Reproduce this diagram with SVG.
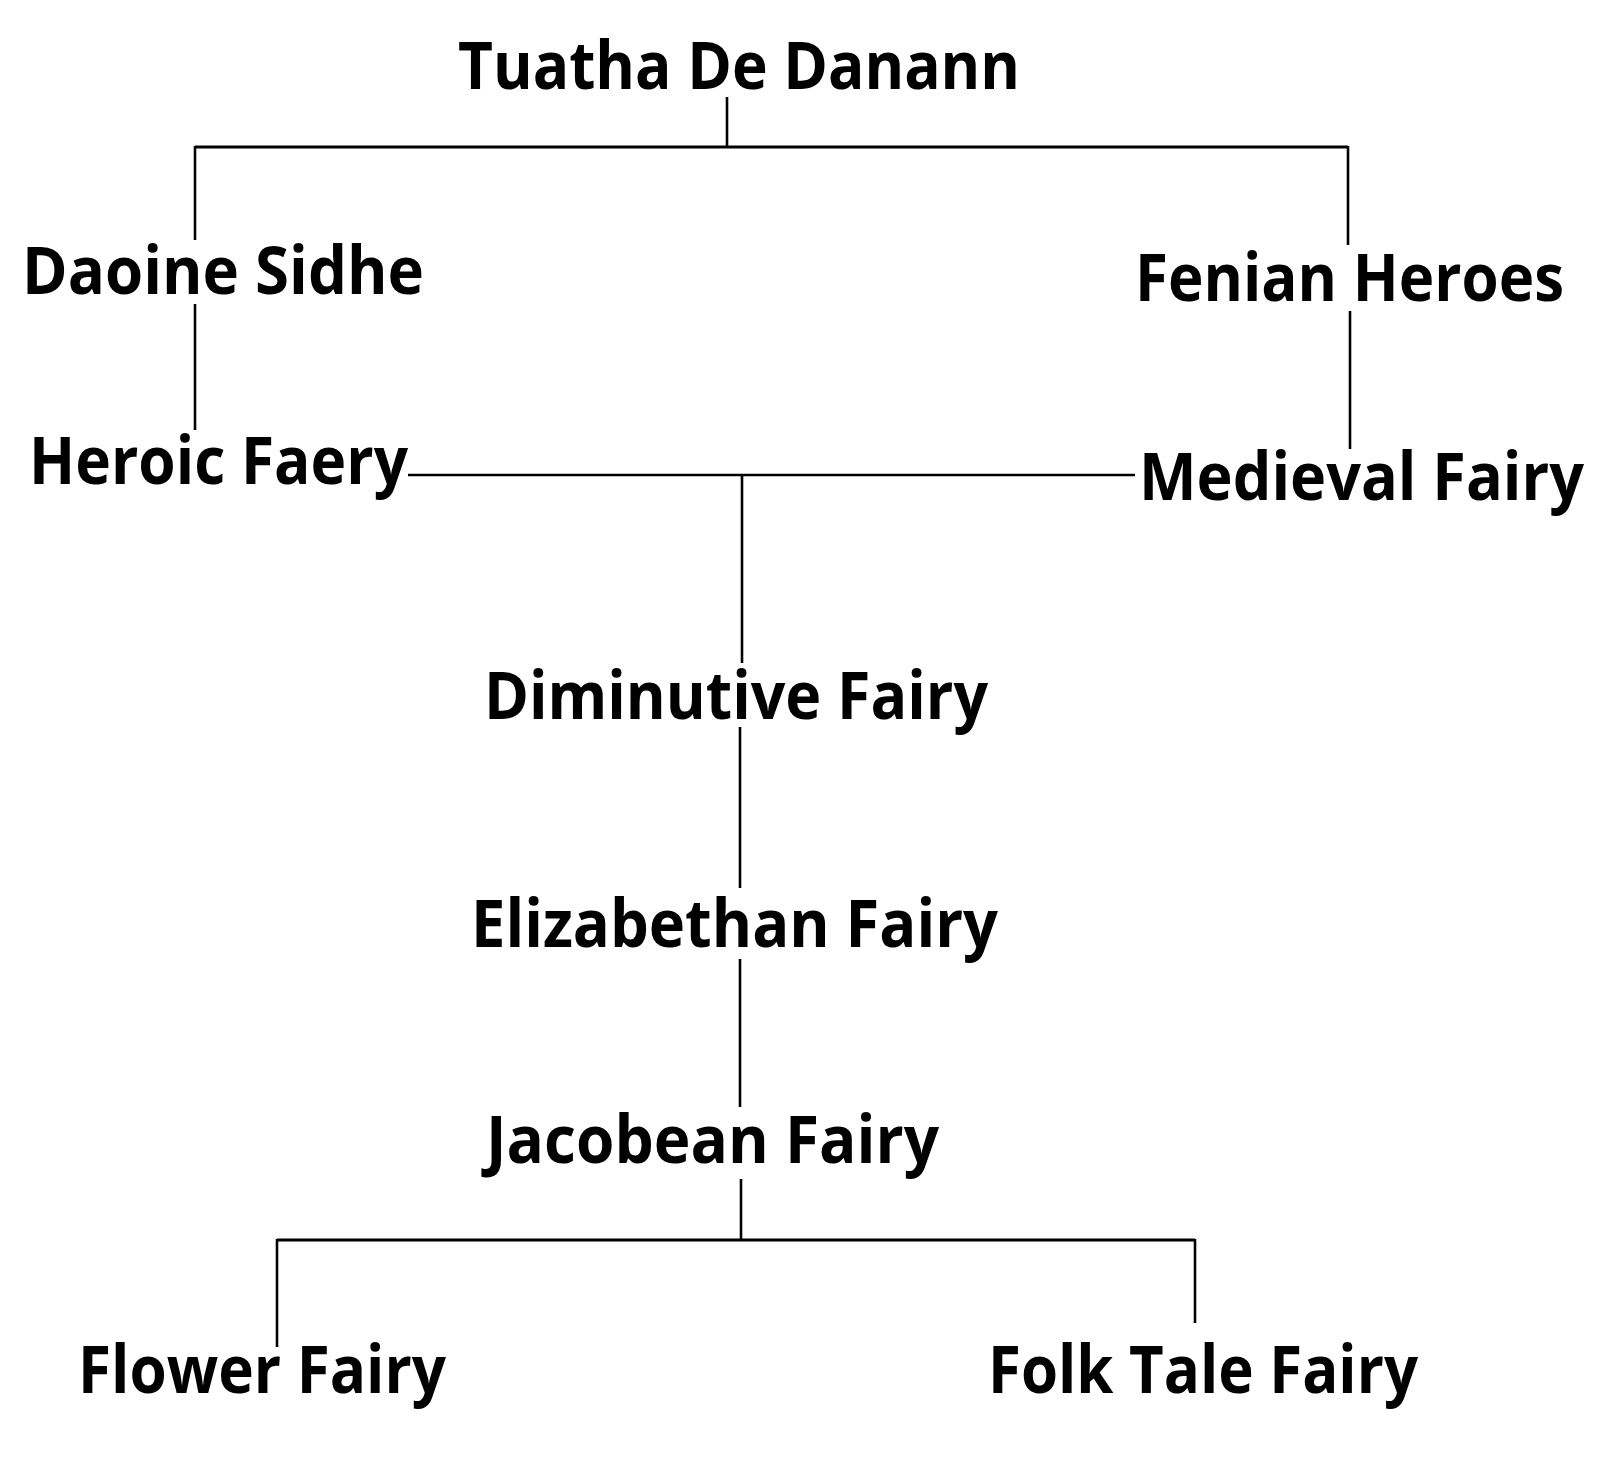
<svg xmlns="http://www.w3.org/2000/svg" width="1600" height="1480" viewBox="0 0 1600 1480">
<style>
.t{font-family:"Open Sans","Liberation Sans",sans-serif;font-weight:bold;font-size:67px;fill:#000}
.c line{stroke:#000;stroke-width:2.6;stroke-linecap:butt}
</style>
<rect width="1600" height="1480" fill="#fff"/>
<g class="c" id="connectors">
<line x1="727" y1="97" x2="727" y2="147"/>
<line x1="195" y1="147" x2="1348" y2="147" style="stroke-width:3"/>
<line x1="195" y1="146" x2="195" y2="240"/>
<line x1="195" y1="304" x2="195" y2="430"/>
<line x1="1348" y1="146" x2="1348" y2="245"/>
<line x1="1350" y1="311" x2="1350" y2="449"/>
<line x1="408" y1="475" x2="1135" y2="475"/>
<line x1="742" y1="475" x2="742" y2="663"/>
<line x1="740" y1="727" x2="740" y2="888"/>
<line x1="740" y1="959" x2="740" y2="1107"/>
<line x1="741" y1="1179" x2="741" y2="1240"/>
<line x1="277" y1="1240" x2="1195" y2="1240" style="stroke-width:3"/>
<line x1="277" y1="1239" x2="277" y2="1347"/>
<line x1="1195" y1="1239" x2="1195" y2="1323"/>
</g>
<g id="tuatha"><text class="t" x="458" y="89" textLength="562" lengthAdjust="spacingAndGlyphs">Tuatha De Danann</text></g>
<g id="daoine"><text class="t" x="22" y="294" textLength="402" lengthAdjust="spacingAndGlyphs">Daoine Sidhe</text></g>
<g id="fenian"><text class="t" x="1135" y="301" textLength="429" lengthAdjust="spacingAndGlyphs">Fenian Heroes</text></g>
<g id="heroic"><text class="t" x="29" y="484" textLength="379" lengthAdjust="spacingAndGlyphs">Heroic Faery</text></g>
<g id="medieval"><text class="t" x="1139" y="500" textLength="445" lengthAdjust="spacingAndGlyphs">Medieval Fairy</text></g>
<g id="diminutive"><text class="t" x="484" y="719" textLength="504" lengthAdjust="spacingAndGlyphs">Diminutive Fairy</text></g>
<g id="elizabethan"><text class="t" x="471" y="947" textLength="527" lengthAdjust="spacingAndGlyphs">Elizabethan Fairy</text></g>
<g id="jacobean"><text class="t" x="486" y="1163" textLength="453" lengthAdjust="spacingAndGlyphs">Jacobean Fairy</text></g>
<g id="flower"><text class="t" x="78" y="1393" textLength="368" lengthAdjust="spacingAndGlyphs">Flower Fairy</text></g>
<g id="folktale"><text class="t" x="988" y="1393" textLength="430" lengthAdjust="spacingAndGlyphs">Folk Tale Fairy</text></g>
</svg>
